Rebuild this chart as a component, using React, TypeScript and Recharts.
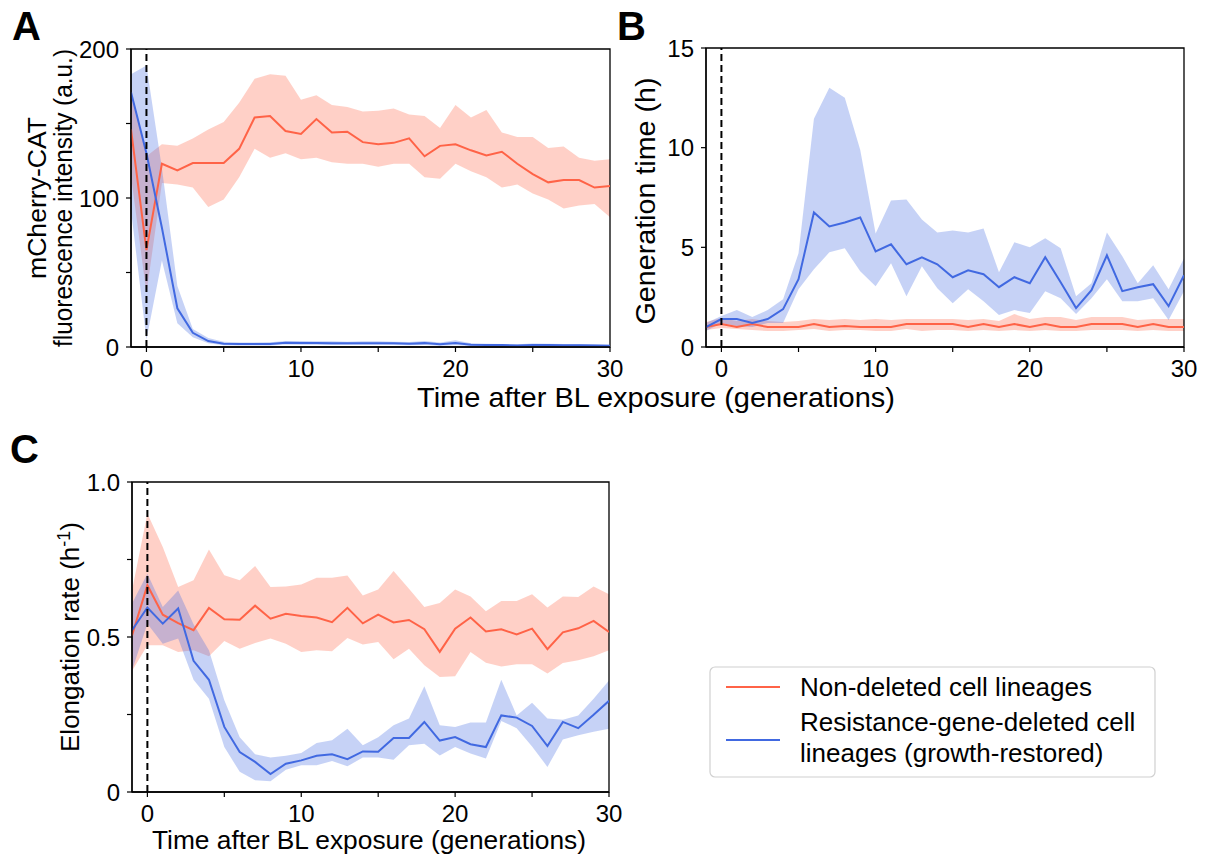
import React from 'react';
import { ComposedChart, Line, Area, XAxis, YAxis, ReferenceLine, ReferenceArea } from 'recharts';

const FONT = '"Liberation Sans", Arial, Helvetica, sans-serif';
const RED = '#ff6347';
const BLUE = '#4169e1';

// x categories: generations after BL exposure
const generations = [-1, 0, 1, 2, 3, 4, 5, 6, 7, 8, 9, 10, 11, 12, 13, 14, 15, 16, 17, 18, 19, 20, 21, 22, 23, 24, 25, 26, 27, 28, 29, 30];
const xTicks = [0, 5, 10, 15, 20, 25, 30];
const xTickLabels = [0, 10, 20, 30];

// Panel A: mCherry-CAT fluorescence intensity (a.u.)
const aRedMean = [146, 65, 123, 118.5, 123.5, 123.5, 123.5, 133, 154, 155, 145, 143, 153, 144, 144.5, 137.5, 136, 137, 140, 128, 135, 136, 132, 128.5, 131, 123, 116, 110.5, 112, 112, 107, 108];
const aRedLo = [115, 36, 110, 109, 107, 94, 99, 114, 133, 127, 130, 126, 127, 124, 123, 123, 121, 123, 123, 114, 113, 123, 118, 114, 107, 109, 103, 99, 93, 95, 96, 87];
const aRedHi = [172, 128, 136, 135, 140, 146, 151, 164, 180, 183, 182, 166, 169, 162.5, 161, 158, 158.5, 160, 156, 155, 147, 162.5, 154, 159, 144, 141, 141, 133.5, 134.5, 127, 125, 126];
const aBlueMean = [171, 130, 80, 26, 9.5, 4, 2.2, 2, 2, 2, 2.8, 2.7, 2.7, 2.5, 2.5, 2.6, 2.6, 2.5, 2.2, 2.6, 1.8, 2.6, 1.5, 1.3, 1.3, 1, 1.4, 1.3, 1.2, 1.2, 1, 0.8];
const aBlueLo = [92, 5, 58, 16, 6.5, 2.5, 1.2, 1, 1, 1, 1.6, 1.5, 1.5, 1.4, 1.4, 1.5, 1.5, 1.4, 1.2, 1.4, 0.8, 1.2, 0.7, 0.6, 0.6, 0.4, 0.7, 0.6, 0.5, 0.5, 0.4, 0.3];
const aBlueHi = [183, 189, 120, 41, 12, 6, 3.5, 3, 3, 3.2, 4, 4, 3.8, 3.8, 3.6, 3.8, 3.8, 3.6, 3.3, 4, 3, 4.5, 2.5, 2.2, 2, 1.8, 2.3, 2.2, 2, 2, 1.8, 1.5];
const aYTicks = [0, 50, 100, 150, 200];
const aYLabels = [0, 100, 200];

// Panel B: generation time (h)
const bRedMean = [1.0, 1.15, 1.0, 1.15, 1.0, 1.0, 1.0, 1.15, 1.0, 1.05, 1.0, 1.0, 1.0, 1.15, 1.15, 1.15, 1.15, 1.0, 1.15, 1.0, 1.15, 1.0, 1.15, 1.0, 1.0, 1.15, 1.15, 1.15, 1.0, 1.15, 1.0, 1.0];
const bRedLo = [0.85, 0.95, 0.9, 0.85, 0.8, 0.8, 0.85, 0.9, 0.8, 0.85, 0.85, 0.8, 0.8, 0.9, 0.8, 0.85, 0.85, 0.8, 0.85, 0.8, 0.85, 0.8, 0.85, 0.8, 0.8, 0.85, 0.85, 0.85, 0.8, 0.85, 0.8, 0.8];
const bRedHi = [1.25, 1.45, 1.3, 1.4, 1.3, 1.25, 1.3, 1.4, 1.35, 1.4, 1.35, 1.4, 1.35, 1.4, 1.4, 1.4, 1.4, 1.35, 1.4, 1.3, 1.65, 1.4, 1.5, 1.5, 1.35, 1.5, 1.5, 1.5, 1.35, 1.4, 1.4, 1.4];
const bBlueMean = [1.0, 1.4, 1.4, 1.2, 1.4, 1.9, 3.4, 6.75, 6.05, 6.25, 6.5, 4.8, 5.15, 4.15, 4.5, 4.15, 3.5, 3.85, 3.65, 3.0, 3.5, 3.2, 4.5, 3.25, 1.95, 2.85, 4.6, 2.8, 3.0, 3.15, 2.05, 3.6];
const bBlueLo = [0.8, 1.2, 1.05, 1.0, 1.2, 1.2, 2.9, 3.9, 4.75, 4.95, 3.8, 3.05, 4.2, 2.55, 4.05, 2.95, 2.2, 2.9, 2.3, 1.6, 1.85, 1.7, 2.8, 2.45, 1.65, 2.45, 3.4, 2.3, 2.3, 2.45, 1.35, 2.8];
const bBlueHi = [1.2, 1.55, 1.85, 1.5, 1.85, 2.4, 4.7, 11.45, 13.0, 12.5, 9.9, 5.7, 7.35, 7.4, 6.4, 5.75, 5.85, 5.75, 5.95, 3.75, 5.25, 5.0, 5.45, 4.95, 2.55, 3.2, 5.75, 4.55, 3.2, 4.1, 2.9, 4.45];
const bYTicks = [0, 5, 10, 15];
const bYLabels = [0, 5, 10, 15];

// Panel C: elongation rate (h^-1)
const cRedMean = [0.505, 0.667, 0.572, 0.545, 0.522, 0.594, 0.557, 0.556, 0.601, 0.559, 0.575, 0.568, 0.563, 0.548, 0.594, 0.544, 0.572, 0.547, 0.555, 0.525, 0.452, 0.527, 0.563, 0.518, 0.525, 0.508, 0.527, 0.461, 0.515, 0.528, 0.552, 0.516];
const cRedLo = [0.39, 0.473, 0.473, 0.452, 0.457, 0.438, 0.487, 0.462, 0.481, 0.495, 0.478, 0.452, 0.457, 0.454, 0.497, 0.476, 0.484, 0.428, 0.462, 0.409, 0.371, 0.373, 0.452, 0.417, 0.405, 0.412, 0.412, 0.382, 0.416, 0.425, 0.438, 0.457];
const cRedHi = [0.65, 0.898, 0.79, 0.661, 0.683, 0.782, 0.699, 0.683, 0.729, 0.661, 0.663, 0.669, 0.691, 0.691, 0.698, 0.634, 0.653, 0.713, 0.656, 0.597, 0.61, 0.653, 0.631, 0.583, 0.616, 0.616, 0.638, 0.595, 0.631, 0.629, 0.663, 0.638];
const cBlueMean = [0.522, 0.595, 0.543, 0.592, 0.423, 0.362, 0.21, 0.129, 0.097, 0.058, 0.091, 0.102, 0.117, 0.122, 0.106, 0.131, 0.13, 0.174, 0.174, 0.226, 0.166, 0.177, 0.154, 0.145, 0.247, 0.24, 0.213, 0.148, 0.226, 0.206, 0.249, 0.294];
const cBlueLo = [0.392, 0.543, 0.478, 0.495, 0.362, 0.301, 0.145, 0.065, 0.038, 0.035, 0.072, 0.086, 0.086, 0.1, 0.083, 0.111, 0.111, 0.104, 0.151, 0.156, 0.118, 0.145, 0.124, 0.108, 0.229, 0.206, 0.147, 0.081, 0.169, 0.183, 0.194, 0.204];
const cBlueHi = [0.608, 0.704, 0.597, 0.65, 0.541, 0.457, 0.296, 0.177, 0.122, 0.111, 0.117, 0.126, 0.158, 0.167, 0.204, 0.151, 0.177, 0.215, 0.237, 0.341, 0.215, 0.21, 0.224, 0.224, 0.362, 0.247, 0.288, 0.237, 0.233, 0.247, 0.301, 0.36];
const cYTicks = [0, 0.25, 0.5, 0.75, 1];
const cYLabels = [0, 0.5, 1];

const legendLabels = ['Non-deleted cell lineages', 'Resistance-gene-deleted cell', 'lineages (growth-restored)'];

function buildRows(rm: number[], rl: number[], rh: number[], bm: number[], bl: number[], bh: number[]) {
  return generations.map((g, i) => ({
    g,
    redMean: rm[i],
    redBand: [rl[i], rh[i]],
    blueMean: bm[i],
    blueBand: [bl[i], bh[i]],
  }));
}

const rowsA = buildRows(aRedMean, aRedLo, aRedHi, aBlueMean, aBlueLo, aBlueHi);
const rowsB = buildRows(bRedMean, bRedLo, bRedHi, bBlueMean, bBlueLo, bBlueHi);
const rowsC = buildRows(cRedMean, cRedLo, cRedHi, cBlueMean, cBlueLo, cBlueHi);

type PanelProps = {
  rows: any[];
  left: number;
  top: number;
  w: number;
  h: number;
  yDomain: [number, number];
  yTicks: number[];
  yLabels: number[];
  yFmt: (v: number) => string;
};

const tickStyle = { fill: '#000', fontSize: 24, fontFamily: FONT };

function Panel({ rows, left, top, w, h, yDomain, yTicks, yLabels, yFmt }: PanelProps) {
  const YW = 80;
  const XH = 50;
  const MT = 20;
  const MR = 30;
  return (
    <div style={{ position: 'absolute', left: left - YW, top: top - MT }}>
      <ComposedChart width={w + YW + MR} height={h + MT + XH} data={rows} margin={{ top: MT, right: MR, bottom: 0, left: 0 }}>
        <XAxis
          dataKey="g"
          type="number"
          domain={[-1, 30]}
          ticks={xTicks}
          interval={0}
          allowDataOverflow
          height={XH}
          tick={tickStyle}
          tickSize={5}
          tickMargin={8}
          tickLine={{ stroke: '#000', strokeWidth: 1.2 }}
          axisLine={{ stroke: '#000', strokeWidth: 1.3 }}
          tickFormatter={(v: number) => (xTickLabels.includes(v) ? String(v) : '')}
        />
        <YAxis
          type="number"
          domain={yDomain}
          ticks={yTicks}
          interval={0}
          allowDataOverflow
          width={YW}
          tick={tickStyle}
          tickSize={5}
          tickMargin={7}
          tickLine={{ stroke: '#000', strokeWidth: 1.2 }}
          axisLine={{ stroke: '#000', strokeWidth: 1.3 }}
          tickFormatter={(v: number) => (yLabels.includes(v) ? yFmt(v) : '')}
        />
        <Area type="linear" dataKey="redBand" stroke="none" fill={RED} fillOpacity={0.3} isAnimationActive={false} activeDot={false} />
        <Line type="linear" dataKey="redMean" stroke={RED} strokeWidth={2} dot={false} isAnimationActive={false} />
        <Area type="linear" dataKey="blueBand" stroke="none" fill={BLUE} fillOpacity={0.3} isAnimationActive={false} activeDot={false} />
        <Line type="linear" dataKey="blueMean" stroke={BLUE} strokeWidth={2} dot={false} isAnimationActive={false} />
        <ReferenceLine x={0} stroke="#000" strokeWidth={2} strokeDasharray="7 4" />
        <ReferenceArea x1={-1} x2={30} y1={yDomain[0]} y2={yDomain[1]} fill="none" fillOpacity={0} stroke="#000" strokeWidth={1.3} />
      </ComposedChart>
    </div>
  );
}

export default function App() {
  return (
    <div style={{ position: 'absolute', left: 0, top: 0, width: 1207, height: 857, background: '#fff', fontFamily: FONT }}>
      <Panel rows={rowsA} left={131} top={49} w={479} h={298} yDomain={[0, 200]} yTicks={aYTicks} yLabels={aYLabels} yFmt={(v) => String(v)} />
      <Panel rows={rowsB} left={706} top={48} w={478} h={299} yDomain={[0, 15]} yTicks={bYTicks} yLabels={bYLabels} yFmt={(v) => String(v)} />
      <Panel rows={rowsC} left={132} top={482} w={477} h={310} yDomain={[0, 1]} yTicks={cYTicks} yLabels={cYLabels} yFmt={(v) => (v === 1 ? '1.0' : String(v))} />
      <svg width={1207} height={857} style={{ position: 'absolute', left: 0, top: 0, pointerEvents: 'none' }} fontFamily={FONT}>
        <text x={12} y={40} fontSize={40} fontWeight="bold" fill="#000">A</text>
        <text x={617} y={40} fontSize={40} fontWeight="bold" fill="#000">B</text>
        <text x={10} y={463} fontSize={40} fontWeight="bold" fill="#000">C</text>

        <text x={46} y={198} fontSize={26} textAnchor="middle" textLength={162} lengthAdjust="spacingAndGlyphs" transform="rotate(-90 46 198)" fill="#000">mCherry-CAT</text>
        <text x={72} y={198} fontSize={26} textAnchor="middle" textLength={298} lengthAdjust="spacingAndGlyphs" transform="rotate(-90 72 198)" fill="#000">fluorescence intensity (a.u.)</text>
        <text x={655} y={201} fontSize={28} textAnchor="middle" textLength={247} lengthAdjust="spacingAndGlyphs" transform="rotate(-90 655 201)" fill="#000">Generation time (h)</text>
        <text x={656} y={407} fontSize={28} textAnchor="middle" textLength={478} lengthAdjust="spacingAndGlyphs" fill="#000">Time after BL exposure (generations)</text>

        <text x={79} y={637} fontSize={26} textAnchor="middle" transform="rotate(-90 79 637)" fill="#000">
          Elongation rate (h<tspan dy={-9} fontSize={18}>-1</tspan><tspan dy={9}>)</tspan>
        </text>
        <text x={369} y={849} fontSize={26} textAnchor="middle" textLength={434} lengthAdjust="spacingAndGlyphs" fill="#000">Time after BL exposure (generations)</text>

        <rect x={710} y={667} width={445} height={110} rx={5} ry={5} fill="#fff" stroke="#d0d0d0" strokeWidth={1.2} />
        <line x1={726} y1={687} x2={780} y2={687} stroke={RED} strokeWidth={2} />
        <line x1={726} y1={740} x2={780} y2={740} stroke={BLUE} strokeWidth={2} />
        <text x={800} y={696} fontSize={26} fill="#000">{legendLabels[0]}</text>
        <text x={800} y={731} fontSize={26} fill="#000">{legendLabels[1]}</text>
        <text x={800} y={762} fontSize={26} fill="#000">{legendLabels[2]}</text>
      </svg>
    </div>
  );
}
